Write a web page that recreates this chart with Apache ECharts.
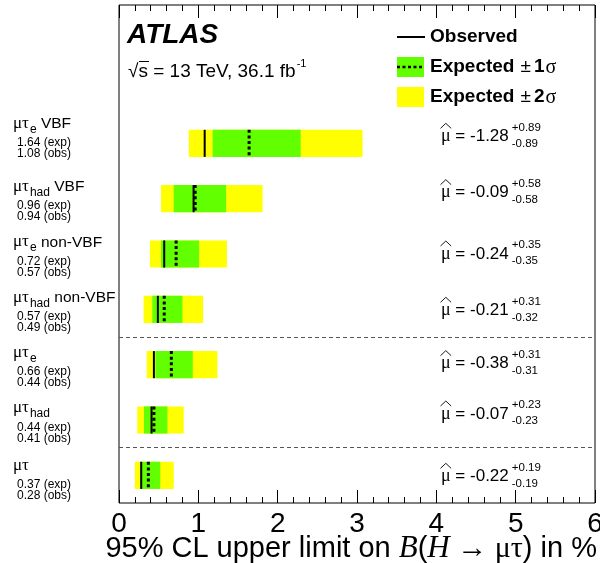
<!DOCTYPE html>
<html>
<head>
<meta charset="utf-8">
<script src="https://cdn.jsdelivr.net/npm/echarts@6/dist/echarts.min.js"></script>
<style>
  html, body { margin: 0; padding: 0; background: #fff; }
  #chart { width: 600px; height: 563px; }
</style>
</head>
<body>
<div id="chart"></div>
<script>
// LFV H -> mu tau: 95% CL upper limits on the branching ratio (in %), per channel, top to bottom
const channelSub    = ['e', 'had', 'e', 'had', 'e', 'had', ''];
const channelSuffix = [' VBF', ' VBF', ' non-VBF', ' non-VBF', '', '', ''];
const expectedLimit = [1.64, 0.96, 0.72, 0.57, 0.66, 0.44, 0.37];
const observedLimit = [1.08, 0.94, 0.57, 0.49, 0.44, 0.41, 0.28];
const band1Lo = [1.18, 0.69, 0.53, 0.42, 0.46, 0.315, 0.265];
const band1Hi = [2.29, 1.35, 1.01, 0.80, 0.93, 0.61, 0.52];
const band2Lo = [0.88, 0.53, 0.39, 0.31, 0.35, 0.23, 0.20];
const band2Hi = [3.07, 1.81, 1.36, 1.06, 1.24, 0.815, 0.69];
// best-fit signal strength with its uncertainties
const muHat  = ['-1.28', '-0.09', '-0.24', '-0.21', '-0.38', '-0.07', '-0.22'];
const muUp   = ['+0.89', '+0.58', '+0.35', '+0.31', '+0.31', '+0.23', '+0.19'];
const muDown = ['-0.89', '-0.58', '-0.35', '-0.32', '-0.31', '-0.23', '-0.19'];
// group separators (between channel groups) on the row axis
const separators = [3, 1];
const xTickValues = [0, 1, 2, 3, 4, 5, 6];

// small vertical nudges for the text columns (px)
const labelNudge = [-8, 0, 0, 0, 0, 0, 2];
const muNudge = [-7, -6, 0, 1, -1, -6, 1];

const SANS = 'Liberation Sans';
const SERIF = 'Liberation Serif';
const GREEN = '#62ff00';
const YELLOW = '#ffff00';

const measureCtx = document.createElement('canvas').getContext('2d');
function textWidth(text, font) { measureCtx.font = font; return measureCtx.measureText(text).width; }

const rows = expectedLimit.map((e, i) => [band2Lo[i], band1Lo[i], band1Hi[i], band2Hi[i], e, observedLimit[i], 6.5 - i]);

function txt(x, y, text, size, opts) {
  opts = opts || {};
  return {
    type: 'text', x: x, y: y, silent: true,
    style: {
      text: text, fill: '#000',
      font: (opts.style || 'normal') + ' ' + (opts.weight || 'normal') + ' ' + size + 'px "' + (opts.family || SANS) + '"',
      textAlign: opts.align || 'left', textVerticalAlign: 'middle'
    }
  };
}

function renderBands(params, api) {
  const y = api.value(6);
  const h = api.size([0, 0.49])[1];
  const c = api.coord([0, y])[1];
  const px = v => api.coord([v, y])[0];
  const x2a = px(api.value(0)), x1a = px(api.value(1)), x1b = px(api.value(2)), x2b = px(api.value(3));
  const xe = px(api.value(4)), xo = px(api.value(5));
  return {
    type: 'group',
    children: [
      { type: 'rect', shape: { x: x2a, y: c - h / 2, width: x2b - x2a, height: h }, style: { fill: YELLOW } },
      { type: 'rect', shape: { x: x1a, y: c - h / 2, width: x1b - x1a, height: h }, style: { fill: GREEN } },
      { type: 'line', shape: { x1: xo, y1: c - h / 2, x2: xo, y2: c + h / 2 }, style: { stroke: '#000', lineWidth: 2 } },
      { type: 'line', shape: { x1: xe, y1: c - h / 2, x2: xe, y2: c + h / 2 }, style: { stroke: '#000', lineWidth: 3, lineDash: [3, 2.6] } }
    ]
  };
}

function renderLabels(params, api) {
  const i = params.dataIndex;
  const c = api.coord([0, api.value(6)])[1] + labelNudge[i];
  const x0 = 13;
  const greekFont = 'normal normal 17px "' + SERIF + '"';
  const wGreek = textWidth('μτ', greekFont);
  const children = [txt(x0, c - 12, 'μτ', 17, { family: SERIF })];
  let x = x0 + wGreek + 1;
  if (channelSub[i]) {
    children.push(txt(x, c - 6, channelSub[i], 12));
    x += textWidth(channelSub[i], 'normal normal 12px "' + SANS + '"');
  }
  if (channelSuffix[i]) children.push(txt(x, c - 11.5, channelSuffix[i], 15.5));
  children.push(txt(17, c + 7.5, api.value(4).toFixed(2) + ' (exp)', 12));
  children.push(txt(17, c + 18.5, api.value(5).toFixed(2) + ' (obs)', 12));
  return { type: 'group', children: children };
}

function renderMu(params, api) {
  const i = params.dataIndex;
  const c = api.coord([0, api.value(6)])[1] + muNudge[i];
  const x0 = 441;
  const muW = textWidth('μ', 'normal normal 18px "' + SERIF + '"');
  const rest = ' = ' + muHat[i];
  const restW = textWidth(rest, 'normal normal 17px "' + SANS + '"');
  const xs = x0 + muW + restW + 3;
  return {
    type: 'group',
    children: [
      txt(x0, c, 'μ', 18, { family: SERIF }),
      { type: 'polyline', shape: { points: [[x0 - 0.5, c - 8], [x0 + muW / 2, c - 13], [x0 + muW + 0.5, c - 8]] },
        style: { stroke: '#000', lineWidth: 0.9, fill: null } },
      txt(x0 + muW, c, rest, 17),
      txt(xs, c - 9, muUp[i], 11.5),
      txt(xs, c + 7, muDown[i], 11.5)
    ]
  };
}

// legend and captions
const graphics = [];
graphics.push(txt(127, 35, 'ATLAS', 28, { style: 'italic', weight: 'bold' }));
const sqrtFont = 'normal normal 19px "' + SANS + '"';
graphics.push(txt(128, 72, '√s = 13 TeV, 36.1 fb', 19));
graphics.push({ type: 'line', silent: true, shape: { x1: 139, y1: 61.5, x2: 149, y2: 61.5 }, style: { stroke: '#000', lineWidth: 1 } });
graphics.push(txt(128 + textWidth('√s = 13 TeV, 36.1 fb', sqrtFont) + 1, 64, '-1', 11));

graphics.push({ type: 'line', silent: true, shape: { x1: 397, y1: 37, x2: 425, y2: 37 }, style: { stroke: '#000', lineWidth: 2 } });
graphics.push(txt(430, 37, 'Observed', 19, { weight: 'bold' }));
graphics.push({ type: 'rect', silent: true, shape: { x: 397, y: 57, width: 27, height: 20 }, style: { fill: GREEN } });
graphics.push({ type: 'line', silent: true, shape: { x1: 397, y1: 67, x2: 424, y2: 67 }, style: { stroke: '#000', lineWidth: 2.5, lineDash: [3, 2.5] } });
graphics.push({ type: 'rect', silent: true, shape: { x: 397, y: 87, width: 27, height: 20 }, style: { fill: YELLOW } });
[['1', 67], ['2', 97]].forEach(function (d) {
  const bold = 'normal bold 19px "' + SANS + '"';
  const reg = 'normal normal 19px "' + SANS + '"';
  let x = 430;
  graphics.push(txt(x, d[1], 'Expected', 19, { weight: 'bold' }));
  x += textWidth('Expected', bold) + 6;
  graphics.push(txt(x, d[1], '±', 19));
  x += textWidth('±', reg) + 3;
  graphics.push(txt(x, d[1], d[0], 19, { weight: 'bold' }));
  x += textWidth(d[0], bold) + 1;
  graphics.push(txt(x, d[1] + 1, 'σ', 20, { family: SERIF }));
});

graphics.push({
  type: 'text', silent: true, x: 597, y: 549,
  style: {
    text: '{a|95% CL upper limit on }{b|B}{a|(}{b|H}{g| → μτ}{a|) in %}',
    textAlign: 'right', textVerticalAlign: 'middle',
    rich: {
      a: { fontFamily: SANS, fontSize: 29, fill: '#000' },
      b: { fontFamily: SERIF, fontStyle: 'italic', fontSize: 31, fill: '#000' },
      g: { fontFamily: SERIF, fontSize: 30, fill: '#000' }
    }
  }
});

const chart = echarts.init(document.getElementById('chart'), null, { renderer: 'canvas' });
const tickAxis = {
  type: 'value', min: 0, max: 6, interval: 1,
  axisLine: { show: false },
  axisTick: { show: true, inside: true, length: 13, lineStyle: { color: '#000', width: 1 } },
  minorTick: { show: true, splitNumber: 5, length: 6, lineStyle: { color: '#000', width: 1 } },
  splitLine: { show: false }
};
chart.setOption({
  animation: false,
  backgroundColor: '#fff',
  grid: {
    left: 119, right: 5, top: 5, bottom: 60, show: true, borderColor: '#000', borderWidth: 1,
    outerBoundsMode: 'none', containLabel: false
  },
  xAxis: [
    Object.assign({}, tickAxis, {
      position: 'bottom',
      axisLabel: {
        show: true, fontSize: 28, fontFamily: SANS, color: '#000', margin: 7,
        customValues: xTickValues, formatter: v => String(v)
      }
    }),
    Object.assign({}, tickAxis, { position: 'top', axisLabel: { show: false } })
  ],
  yAxis: { type: 'value', min: 0, max: 9, show: false },
  series: [
    {
      type: 'custom', name: 'limits', data: rows, renderItem: renderBands, silent: true,
      markLine: {
        silent: true, symbol: 'none', label: { show: false },
        lineStyle: { type: [4, 3], color: '#555', width: 1 },
        data: separators.map(v => ({ yAxis: v }))
      }
    },
    { type: 'custom', name: 'labels', data: rows, renderItem: renderLabels, silent: true, clip: false },
    { type: 'custom', name: 'mu', data: rows, renderItem: renderMu, silent: true, clip: false }
  ],
  graphic: graphics
});
</script>
</body>
</html>
